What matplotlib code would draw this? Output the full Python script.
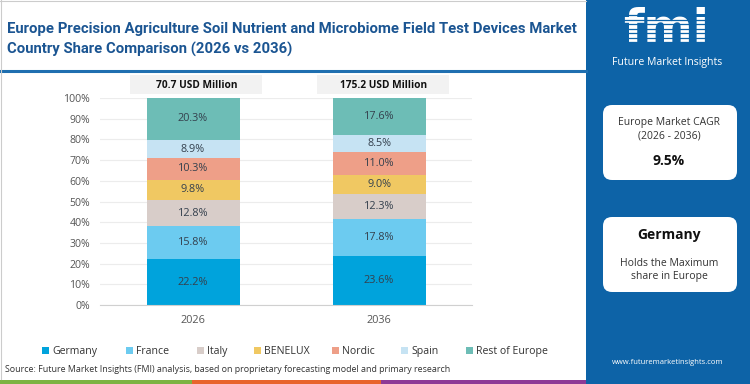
import matplotlib
matplotlib.use("Agg")
import matplotlib.pyplot as plt
from matplotlib.patches import Rectangle, FancyBboxPatch
import numpy as np

plt.rcParams['font.family'] = ['Open Sans', 'DejaVu Sans']

years = ["2026", "2036"]
totals = ["70.7 USD Million", "175.2 USD Million"]
countries = ["Germany", "France", "Italy", "BENELUX", "Nordic", "Spain", "Rest of Europe"]
shares_2026 = [22.2, 15.8, 12.8, 9.8, 10.3, 8.9, 20.3]
shares_2036 = [23.6, 17.8, 12.3, 9.0, 11.0, 8.5, 17.6]
colors = ["#00a3dc", "#6ccbf0", "#d8cdc9", "#f0c862", "#ee9f88", "#c6e3f3", "#6dbdb6"]
yticks = [0, 10, 20, 30, 40, 50, 60, 70, 80, 90, 100]

W, H = 750, 384
fig = plt.figure(figsize=(7.5, 3.84), dpi=100)
fig.patch.set_facecolor("white")

def fx(x): return x / W
def fy(y): return 1 - y / H

# Right blue panel
fig.patches.append(Rectangle((fx(586), 0), 1 - fx(586), 1, transform=fig.transFigure,
                             facecolor="#0d63a7", edgecolor="none", zorder=0))
# title separator line
fig.add_artist(plt.Line2D([0, fx(586)], [fy(70.5), fy(70.5)], transform=fig.transFigure,
                          color="#1f6fb0", lw=2.2))
# bottom colour strip
for x0, x1, c in [(0, 192, "#7cb342"), (192, 381, "#e8642c"), (381, 586, "#8e3a96")]:
    fig.patches.append(Rectangle((fx(x0), 0), fx(x1 - x0), 4.5 / H, transform=fig.transFigure,
                                 facecolor=c, edgecolor="none"))
# thin frame left/top
fig.add_artist(plt.Line2D([fx(0.5), fx(0.5)], [5 / H, 1], transform=fig.transFigure, color="#cccccc", lw=0.8))
fig.add_artist(plt.Line2D([0, fx(586)], [fy(0.5), fy(0.5)], transform=fig.transFigure, color="#cccccc", lw=0.8))

# Title (scaled to fit reference width)
t1 = fig.text(fx(7), fy(29), "Europe Precision Agriculture Soil Nutrient and Microbiome Field Test Devices Market",
              fontsize=11, fontweight="bold", color="#1b5592", va="center", ha="left", family="Roboto")
t2 = fig.text(fx(7), fy(49), "Country Share Comparison (2026 vs 2036)",
              fontsize=11, fontweight="bold", color="#1b5592", va="center", ha="left", family="Roboto")
renderer = fig.canvas.get_renderer()
w1 = t1.get_window_extent(renderer).width
scale = 570.0 / w1
t1.set_fontsize(11 * scale)
t2.set_fontsize(11 * scale)

# Chart axes
ax = fig.add_axes([fx(100), fy(305), fx(372), 207 / H])
ax.set_zorder(2)
x = np.arange(len(years))
data = np.array([shares_2026, shares_2036])
bottom = np.zeros(len(years))
for i, c in enumerate(countries):
    vals = data[:, i]
    ax.bar(x, vals, width=0.5, bottom=bottom, color=colors[i], label=c, zorder=2)
    for xi, v, b in zip(x, vals, bottom):
        ax.text(xi, b + v / 2, f"{v:.1f}%", ha="center", va="center", fontsize=7.8, color="#34404d", zorder=3)
    bottom += vals
ax.set_xlim(-0.5, 1.5)
ax.set_ylim(0, 100)
ax.set_yticks(yticks)
ax.set_yticklabels([f"{t}%" for t in yticks], fontsize=7.6, color="#555555")
ax.set_xticks(x)
ax.set_xticklabels(years, fontsize=7.8, color="#555555")
ax.tick_params(axis="both", length=0, pad=7)
ax.grid(axis="y", color="#ececec", lw=0.8, zorder=0)
for s in ["top", "right", "left"]:
    ax.spines[s].set_visible(False)
ax.spines["bottom"].set_color("#d0d0d0")

# header boxes with totals
for (x0, x1), t in zip([(130, 262), (317, 449)], totals):
    fig.patches.append(Rectangle((fx(x0), fy(94)), fx(x1 - x0), 19 / H, transform=fig.transFigure,
                                 facecolor="#f2f2f2", edgecolor="none", zorder=1))
    fig.text(fx((x0 + x1) / 2 + 1), fy(85), t, ha="center", va="center", fontsize=7.3,
             fontweight="bold", color="#111111", zorder=5)

# Legend (manually placed entries)
leg_x = [42, 126, 197, 254, 332, 401, 466]
for lx, c, name in zip(leg_x, colors, countries):
    fig.patches.append(Rectangle((fx(lx), fy(353.5)), fx(7), 7 / H, transform=fig.transFigure,
                                 facecolor=c, edgecolor="none", zorder=3))
    fig.text(fx(lx + 10), fy(350), name, fontsize=7.6, color="#333333", ha="left", va="center_baseline",
             zorder=3)

fig.text(fx(5), fy(370), "Source: Future Market Insights (FMI) analysis, based on proprietary forecasting model and primary research",
         fontsize=6.4, color="#333333", va="center", ha="left")

# Right panel content
fig.text(fx(666), fy(30), "fmi", fontsize=34, fontweight="bold", color="white", ha="center", va="center",
         family="DejaVu Sans", zorder=5)
for yy in np.arange(15, 52, 4.5):
    fig.add_artist(plt.Line2D([fx(608), fx(724)], [fy(yy), fy(yy)], transform=fig.transFigure,
                              color="#0d63a7", lw=0.9, zorder=6))
fig.text(fx(667), fy(63), "Future Market Insights", fontsize=7.6, color="white", ha="center", va="center", zorder=7)

for y0, y1 in [(105, 180), (217, 292)]:
    fig.patches.append(FancyBboxPatch((fx(603), fy(y1)), fx(134), (y1 - y0) / H,
                                      boxstyle="round,pad=0,rounding_size=0.012",
                                      transform=fig.transFigure, facecolor="white", edgecolor="none",
                                      mutation_aspect=W / H, zorder=1))
fig.text(fx(669), fy(122), "Europe Market CAGR", fontsize=7.5, color="#333333", ha="center", va="center", zorder=5)
fig.text(fx(669), fy(136), "(2026 - 2036)", fontsize=7.5, color="#333333", ha="center", va="center", zorder=5)
fig.text(fx(669), fy(161), "9.5%", fontsize=10, fontweight="bold", color="#111111", ha="center", va="center", zorder=5)
fig.text(fx(669), fy(235), "Germany", fontsize=10, fontweight="bold", color="#111111", ha="center", va="center", zorder=5)
fig.text(fx(669), fy(263), "Holds the Maximum", fontsize=7.5, color="#333333", ha="center", va="center", zorder=5)
fig.text(fx(669), fy(277), "share in Europe", fontsize=7.5, color="#333333", ha="center", va="center", zorder=5)
fig.text(fx(668), fy(363), "www.futuremarketinsights.com", fontsize=5.5, color="white", ha="center", va="center", zorder=5)

fig.savefig("out.png", dpi=100)
